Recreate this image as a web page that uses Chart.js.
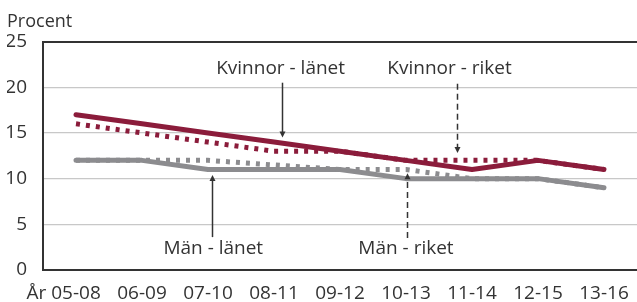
<!DOCTYPE html>
<html>
<head>
<meta charset="utf-8">
<script src="https://cdn.jsdelivr.net/npm/chart.js@4"></script>
<style>
  html, body { margin: 0; padding: 0; background: #fff; }
  #wrap { width: 637px; height: 302px; }
</style>
</head>
<body>
<div id="wrap"><canvas id="myChart" width="637" height="302"></canvas></div>
<script>
// data
const labels = ['05-08', '06-09', '07-10', '08-11', '09-12', '10-13', '11-14', '12-15', '13-16']
const kvinnorLanet = [17, 16, 15, 14, 13, 12, 11, 12, 11]
const kvinnorRiket = [16, 15, 14, 13, 13, 12, 12, 12, 11]
const manLanet = [12, 12, 11, 11, 11, 10, 10, 10, 9]
const manRiket = [12, 12, 12, 11.5, 11, 11, 10, 10, 9]
const yTicks = [0, 5, 10, 15, 20, 25]

const red = '#8b1c3b'
const grey = '#8c8c8f'
const ink = '#333333'
const font = '"Open Sans", sans-serif'

// pilar och etiketter, i data-koordinater (x = kategoriindex, y = procent)
const notes = [
    { text: 'Kvinnor - länet', tx: 3.1, ty: 22.1, x: 3.12, from: 20.5, to: 14.5, dashed: false },
    { text: 'Kvinnor - riket', tx: 5.66, ty: 22.1, x: 5.78, from: 20.4, to: 12.8, dashed: true },
    { text: 'Män - länet', tx: 2.08, ty: 2.3, x: 2.06, from: 3.6, to: 10.4, dashed: false },
    { text: 'Män - riket', tx: 5.0, ty: 2.3, x: 5.02, from: 3.5, to: 10.6, dashed: true }
]

function arrowHead(ctx, x, y, dir) {
    ctx.beginPath()
    ctx.moveTo(x, y)
    ctx.lineTo(x - 3, y - dir * 6)
    ctx.lineTo(x + 3, y - dir * 6)
    ctx.closePath()
    ctx.fill()
}

const notesPlugin = {
    id: 'notes',
    afterDatasetsDraw(chart) {
        const ctx = chart.ctx
        const xs = chart.scales.x
        const ys = chart.scales.y
        ctx.save()
        ctx.fillStyle = ink
        ctx.strokeStyle = ink
        ctx.font = '19px ' + font
        ctx.textAlign = 'center'
        ctx.textBaseline = 'middle'
        notes.forEach(n => {
            ctx.fillText(n.text, xs.getPixelForValue(n.tx), ys.getPixelForValue(n.ty))
            const x = Math.round(xs.getPixelForValue(n.x)) + 0.5
            const y1 = ys.getPixelForValue(n.from)
            const y2 = ys.getPixelForValue(n.to)
            const dir = y2 > y1 ? 1 : -1
            ctx.lineWidth = 1.5
            ctx.setLineDash(n.dashed ? [6, 4] : [])
            ctx.beginPath()
            ctx.moveTo(x, y1)
            ctx.lineTo(x, y2 - dir * 5)
            ctx.stroke()
            ctx.setLineDash([])
            arrowHead(ctx, x, y2, dir)
        })
        // "År" framför första kategorin
        ctx.textAlign = 'right'
        const x0 = xs.getPixelForTick(0) - ctx.measureText(labels[0]).width / 2 - ctx.measureText(' ').width
        ctx.fillText('År', x0, xs.top + 24)
        ctx.restore()
    }
}

let ctx = document.getElementById('myChart').getContext('2d')
let myChart = new Chart(ctx, {
    type: 'line',
    data: {
        labels: labels,
        datasets: [
            { label: 'Kvinnor - riket', data: kvinnorRiket, borderColor: red, borderWidth: 5, borderDash: [4, 6], borderCapStyle: 'butt', order: 1 },
            { label: 'Män - riket', data: manRiket, borderColor: grey, borderWidth: 5, borderDash: [4, 6], borderCapStyle: 'butt', order: 1 },
            { label: 'Kvinnor - länet', data: kvinnorLanet, borderColor: red, borderWidth: 5, borderCapStyle: 'round', order: 2 },
            { label: 'Män - länet', data: manLanet, borderColor: grey, borderWidth: 5, borderCapStyle: 'round', order: 2 }
        ]
    },
    options: {
        responsive: false,
        maintainAspectRatio: false,
        animation: false,
        events: [],
        elements: {
            point: { radius: 0 },
            line: { tension: 0, borderJoinStyle: 'round', fill: false }
        },
        layout: { padding: { left: 7, right: -7, top: 0, bottom: 0 } },
        plugins: {
            legend: { display: false },
            tooltip: { enabled: false },
            title: {
                display: true,
                text: 'Procent',
                align: 'start',
                color: ink,
                font: { family: font, size: 18, weight: 'normal' },
                padding: { top: 11, bottom: 9 }
            }
        },
        scales: {
            x: {
                offset: true,
                grid: { display: false, drawTicks: false },
                border: { display: true, color: ink, width: 2 },
                ticks: { color: ink, font: { family: font, size: 19 }, padding: 12, maxRotation: 0, autoSkip: false },
                afterFit: s => { s.height = 32; s.paddingLeft = 0; s.paddingRight = 0 }
            },
            y: {
                min: yTicks[0],
                max: yTicks[yTicks.length - 1],
                afterBuildTicks: s => { s.ticks = yTicks.map(v => ({ value: v })) },
                grid: {
                    drawTicks: false,
                    color: c => (c.tick.value === 25 ? ink : '#c8c8c8'),
                    lineWidth: c => (c.tick.value === 25 ? 2 : 1.2)
                },
                border: { display: true, color: ink, width: 2 },
                ticks: { color: ink, font: { family: font, size: 19 }, padding: 16 },
                afterFit: s => { s.width = 36 }
            }
        }
    },
    plugins: [notesPlugin]
})
</script>
</body>
</html>
